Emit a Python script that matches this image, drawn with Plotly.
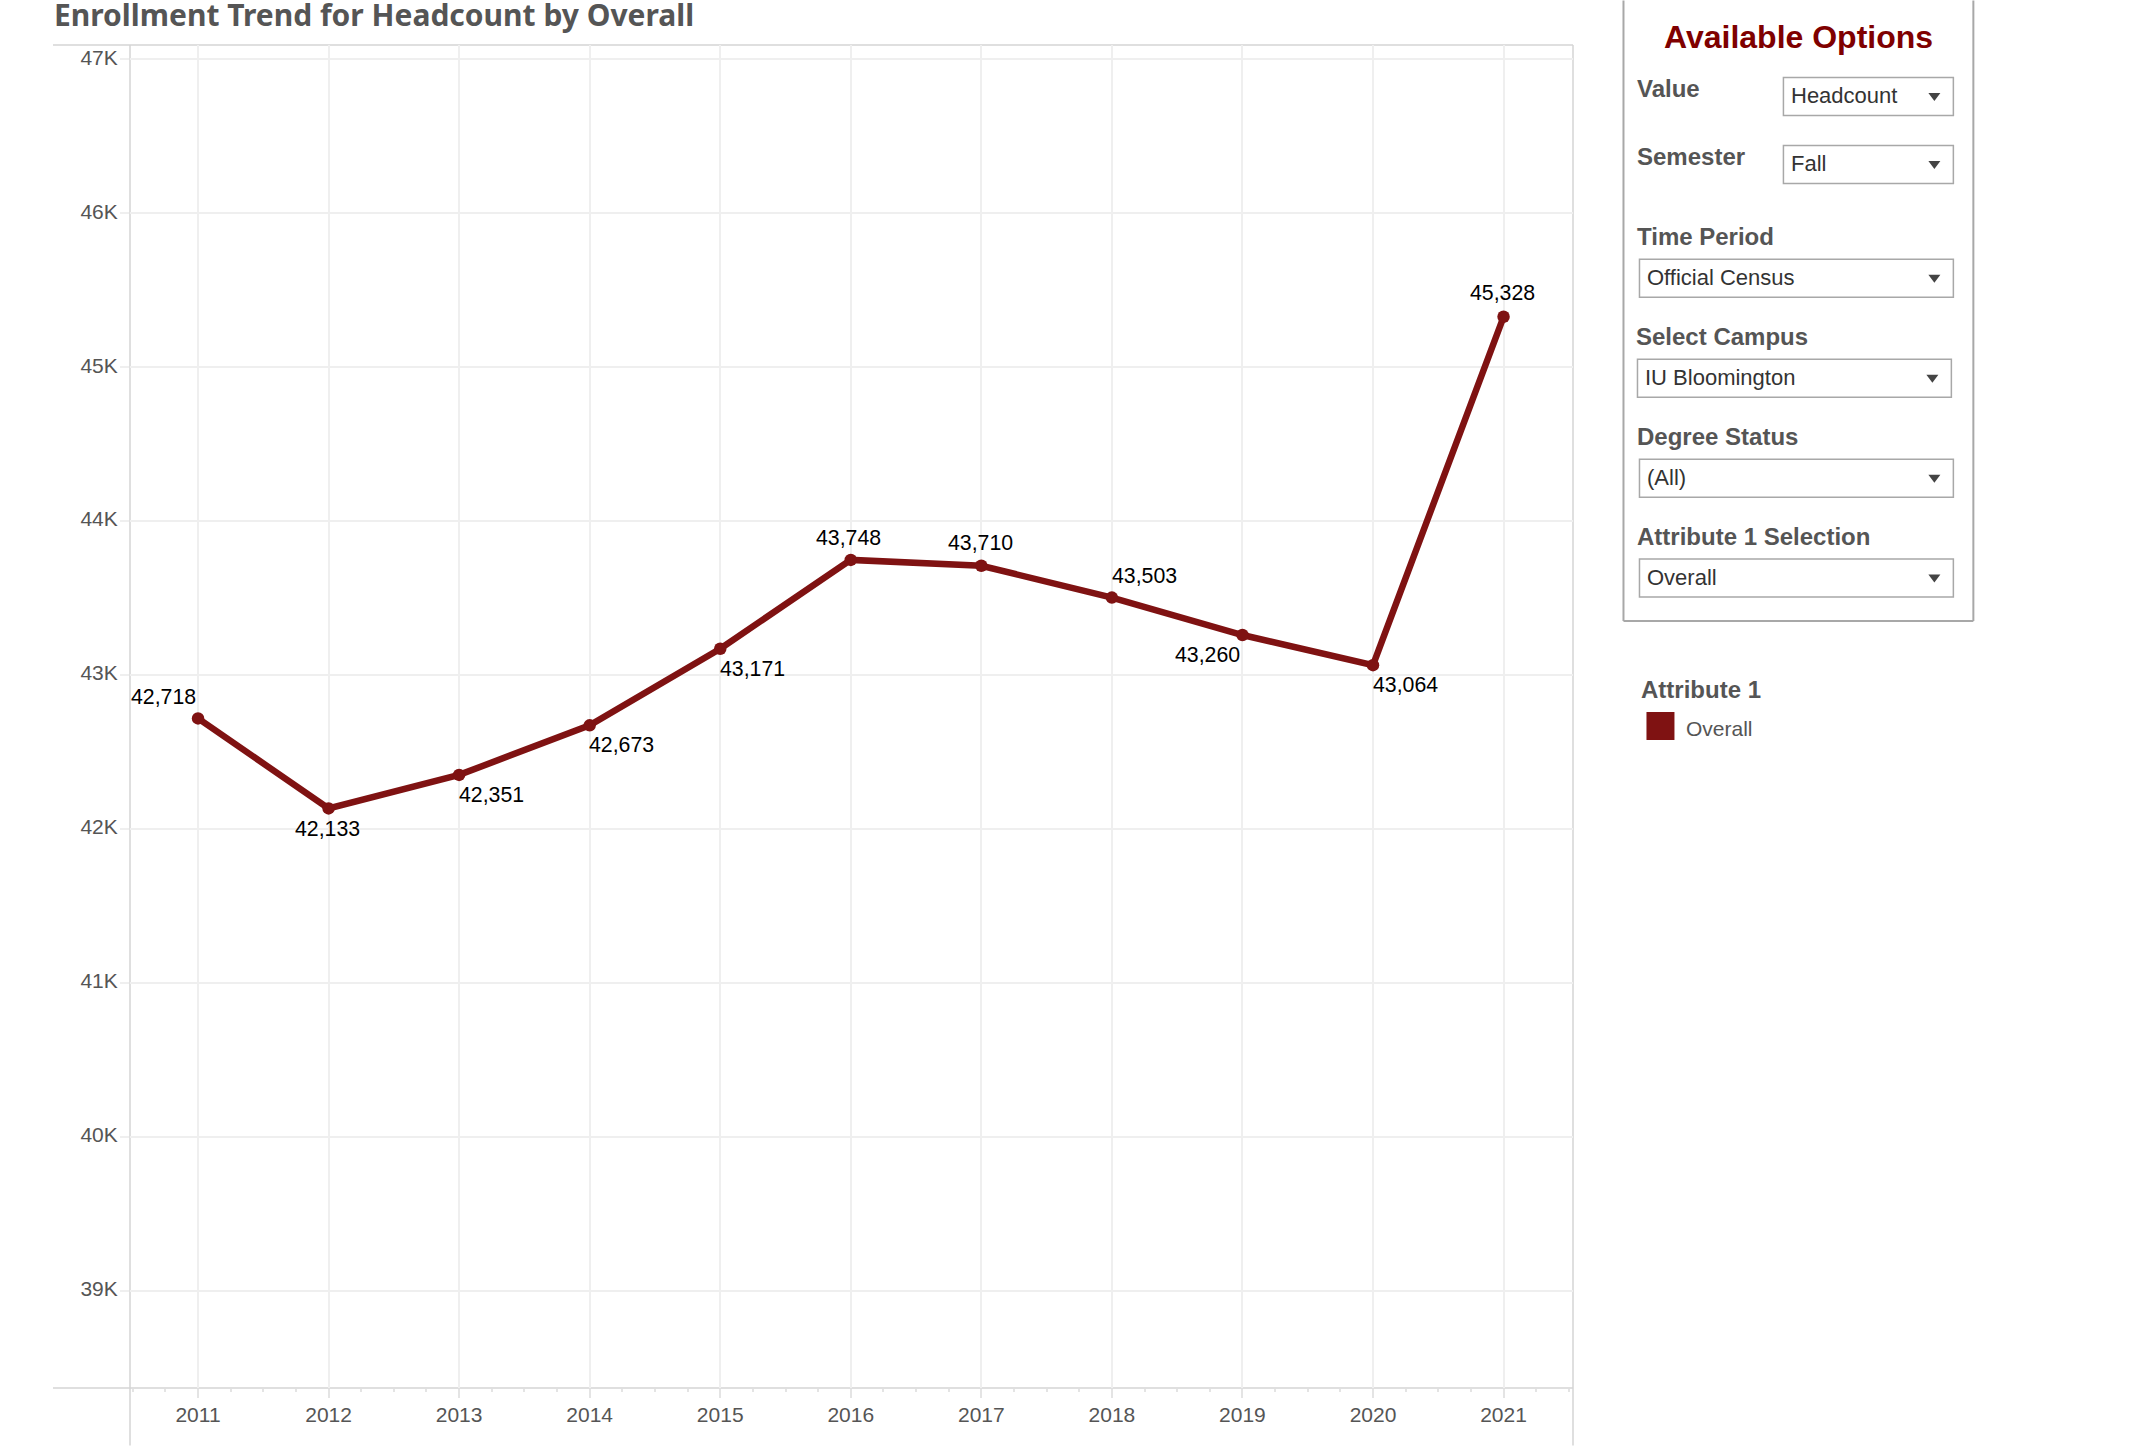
import plotly.graph_objects as go

# ---- data ----
years = [2011, 2012, 2013, 2014, 2015, 2016, 2017, 2018, 2019, 2020, 2021]
headcount = [42718, 42133, 42351, 42673, 43171, 43748, 43710, 43503, 43260, 43064, 45328]
y_tick_vals = [39000, 40000, 41000, 42000, 43000, 44000, 45000, 46000, 47000]
y_tick_text = ["39K", "40K", "41K", "42K", "43K", "44K", "45K", "46K", "47K"]
title_text = "Enrollment Trend for Headcount by Overall"

# ---- layout constants (pixels) ----
W, H = 2130, 1446
L, R, T, B = 130, 1573.5, 44.5, 1388.5
RED = "#7f1212"
AXIS = "#d4d4d4"
GRID = "#efefef"
BOX = "#a8a8a8"
GREY = "#555555"
SANS = "Liberation Sans, Arial, sans-serif"

def px(x):
    return (x - L) / (R - L)

def py(y):
    return 1 - (y - T) / (B - T)

label_offsets = [(-35, -21), (-1, 21), (32, 20), (31.5, 19.5), (32, 20.5), (-2, -22),
                 (-1, -23), (33, -22), (-35, 19.5), (33, 19.5), (-1, -23.5)]

fig = go.Figure()
fig.add_trace(go.Scatter(
    x=years, y=headcount, mode="lines+markers", name="Overall", showlegend=False,
    line=dict(color=RED, width=6.5),
    marker=dict(color=RED, size=12.5),
    hoverinfo="x+y",
))

shapes = []
annotations = []

def line(x0, y0, x1, y1, color=AXIS, w=1.5):
    shapes.append(dict(type="line", xref="paper", yref="paper", x0=px(x0), x1=px(x1),
                       y0=py(y0), y1=py(y1), line=dict(color=color, width=w), layer="below"))

def rect(x0, y0, x1, y1, color=BOX, w=1.5, fill="rgba(0,0,0,0)"):
    shapes.append(dict(type="rect", xref="paper", yref="paper", x0=px(x0), x1=px(x1),
                       y0=py(y0), y1=py(y1), line=dict(color=color, width=w), fillcolor=fill,
                       layer="above"))

def label(x, y, text, size, color=GREY, bold=False, anchor="left", family=SANS):
    annotations.append(dict(xref="paper", yref="paper", x=px(x), y=py(y), text=f"<b>{text}</b>" if bold else text,
                            showarrow=False, xanchor=anchor, yanchor="middle",
                            borderpad=0, font=dict(size=size, color=color, family=family)))

# chart frame
line(53, T, R, T)
line(53, B, R, B)
line(L, T, L, H)
line(R, T, R, H)

# title
label(53, 14, title_text, 30, GREY, True, family="Noto Sans, sans-serif")

# data labels
for yr, v, (dx, dy) in zip(years, headcount, label_offsets):
    annotations.append(dict(xref="x", yref="y", x=yr, y=v, text=f"{v:,}", showarrow=False,
                            xshift=dx, yshift=-dy, xanchor="center", yanchor="middle",
                            font=dict(size=21.3, color="#000000", family=SANS)))

# options panel
line(1624, 0, 1624, 621, BOX, 2)
line(1974, 0, 1974, 621, BOX, 2)
line(1624, 621, 1974, 621, BOX, 2)
label(1799, 36.5, "Available Options", 32, "#7f0000", True, "center")

fields = [
    ("Value", 1637, 88, "Headcount", 1784, 1954, 77, 1791),
    ("Semester", 1637, 156, "Fall", 1784, 1954, 145, 1791),
    ("Time Period", 1637, 236, "Official Census", 1640, 1954, 259, 1646.5),
    ("Select Campus", 1636, 336, "IU Bloomington", 1638, 1952, 359, 1645),
    ("Degree Status", 1637, 436, "(All)", 1640, 1954, 459, 1646.5),
    ("Attribute 1 Selection", 1637, 536, "Overall", 1640, 1954, 559, 1646.5),
]
for name, lx, ly, val, x0, x1, y0, tx in fields:
    label(lx, ly, name, 24, GREY, True)
    rect(x0, y0, x1, y0 + 38)
    label(tx, y0 + 18, val, 22, "#333333")
    ax, ay = x1 - 19, y0 + 19.5
    shapes.append(dict(type="path", xref="paper", yref="paper",
                       path=f"M {px(ax-6)} {py(ay-4)} L {px(ax+6)} {py(ay-4)} L {px(ax)} {py(ay+4)} Z",
                       fillcolor="#444444", line=dict(width=0)))

# colour legend
label(1641, 689, "Attribute 1", 24, GREY, True)
rect(1647, 712, 1675, 740, RED, 0, RED)
label(1686, 729, "Overall", 21, GREY)

fig.update_layout(
    width=W, height=H, autosize=False,
    margin=dict(l=L, r=W - R, t=T, b=H - B, pad=0),
    paper_bgcolor="white", plot_bgcolor="white",
    showlegend=False,
    shapes=shapes, annotations=annotations,
    xaxis=dict(
        range=[2010.479, 2021.532], tickmode="array", tickvals=years,
        ticktext=[str(y) for y in years], showgrid=True, gridcolor=GRID, gridwidth=1.5,
        zeroline=False, showline=False, ticks="outside", ticklen=9, tickwidth=1.5,
        tickcolor="#e4e4e4", tickfont=dict(size=21, color=GREY, family=SANS),
        ticklabelstandoff=-1,
        minor=dict(tick0=2010.75, dtick=0.25, ticks="outside", ticklen=3, tickwidth=1.5,
                   tickcolor="#e4e4e4", showgrid=False),
    ),
    yaxis=dict(
        range=[38367, 47094], tickmode="array", tickvals=y_tick_vals, ticktext=y_tick_text,
        showgrid=True, gridcolor=GRID, gridwidth=1.5, zeroline=False, showline=False,
        ticks="outside", ticklen=9, tickwidth=1.5, tickcolor=GRID,
        tickfont=dict(size=21, color=GREY, family=SANS),
        ticklabelstandoff=-2, ticklabelshift=-2,
    ),
)

fig.write_html("out.html", config={"displayModeBar": False},
               post_script="document.body.style.margin='0';document.body.style.overflow='hidden';")
